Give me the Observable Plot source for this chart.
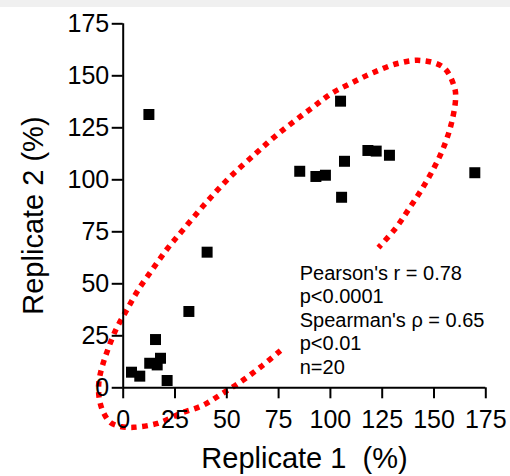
<!DOCTYPE html>
<html><head><meta charset="utf-8">
<script src="https://cdn.jsdelivr.net/npm/d3@7"></script>
<script src="https://cdn.jsdelivr.net/npm/@observablehq/plot@0.6"></script>
<style>
body{margin:0;background:#fff;width:510px;height:476px;overflow:hidden;}
#bar{height:7px;background:#f0f0f0;}
</style></head><body><div id="bar"></div><div id="chart"></div>
<script>
// Data
const replicate1 = [12.4, 4.0, 8.0, 12.8, 15.6, 16.4, 18.0, 21.2, 31.7, 40.5, 104.9, 85.2, 93.0, 97.6, 106.8, 105.4, 118.1, 122.1, 128.5, 169.7];
const replicate2 = [131.4, 7.5, 5.6, 11.8, 23.2, 11.0, 14.2, 3.5, 36.7, 65.2, 137.8, 104.1, 101.6, 102.2, 108.9, 91.6, 114.1, 113.8, 111.8, 103.4];
// dotted ellipse outline (data units), open where the text sits
const ellipseX = [75.9, 67.2, 57.6, 47.9, 38.3, 27.7, 16.6, 5.0, -1.3, -6.1, -9.5, -11.4, -11.9, -11.4, -10.0, -8.1, -3.7, 1.6, 7.4, 14.1, 21.4, 28.6, 39.2, 51.3, 63.9, 72.6, 81.7, 91.4, 100.5, 110.7, 120.8, 132.4, 143.5, 154.6, 159.9, 160.4, 158.4, 154.6, 149.8, 144.0, 137.7, 131.4, 123.2];
const ellipseY = [17.9, 10.7, 3.5, -2.7, -8.5, -12.3, -17.1, -19.0, -18.6, -16.7, -11.9, -6.1, -0.3, 5.0, 10.7, 16.5, 27.6, 37.2, 47.3, 56.9, 67.0, 75.6, 88.1, 101.1, 112.6, 120.3, 127.5, 134.8, 141.5, 146.8, 151.6, 155.9, 157.4, 154.0, 144.4, 138.6, 127.1, 115.5, 105.4, 95.3, 85.7, 76.6, 67.4];
const tickValues = [0, 25, 50, 75, 100, 125, 150, 175];
const statsLines = ["Pearson's r = 0.78", "p<0.0001", "Spearman's \u03C1 = 0.65", "p<0.01", "n=20"];
const statsPos = [85.2, 60];
const xTitle = "Replicate 1  (%)";
const yTitle = "Replicate 2 (%)";
const yTitlePos = [-43.4, 82.8];

const points = replicate1.map((x, i) => ({x, y: replicate2[i]}));
const outline = ellipseX.map((x, i) => ({x, y: ellipseY[i]}));

const plot = Plot.plot({
  width: 510, height: 469,
  marginTop: 16.3, marginBottom: 88.7, marginLeft: 122.7, marginRight: 24.7,
  x: {domain: [0, 175]},
  y: {domain: [0, 175]},
  style: {fontFamily: "'Liberation Sans', Arial, sans-serif", color: "#000", background: "#fff", overflow: "visible"},
  marks: [
    Plot.line(outline, {x: "x", y: "y", curve: "catmull-rom", stroke: "#ff0000", strokeWidth: 5.5, strokeDasharray: "5.5,5.5", strokeLinecap: "butt", strokeLinejoin: "miter"}),
    Plot.ruleX([0], {stroke: "#000", strokeWidth: 2}),
    Plot.ruleY([0], {stroke: "#000", strokeWidth: 2}),
    Plot.axisX(tickValues, {tickSize: 11, tickPadding: 11, fontSize: 25, strokeWidth: 2, label: null}),
    Plot.axisY(tickValues, {tickSize: 11, tickPadding: 3, fontSize: 25, strokeWidth: 2, label: null}),
    Plot.dot(points, {x: "x", y: "y", symbol: "square", r: 6.2, fill: "#000", stroke: null}),
    Plot.text([statsLines.join("\n")], {x: () => statsPos[0], y: () => statsPos[1], textAnchor: "start", lineAnchor: "top", lineHeight: 1.175, fontSize: 20, fill: "#000"}),
    Plot.text([xTitle], {frameAnchor: "bottom", dy: 71.4, fontSize: 29, lineAnchor: "middle", fill: "#000"}),
    Plot.text([yTitle], {x: () => yTitlePos[0], y: () => yTitlePos[1], rotate: -90, fontSize: 29, lineAnchor: "middle", fill: "#000"})
  ]
});
document.getElementById("chart").appendChild(plot);
</script></body></html>
